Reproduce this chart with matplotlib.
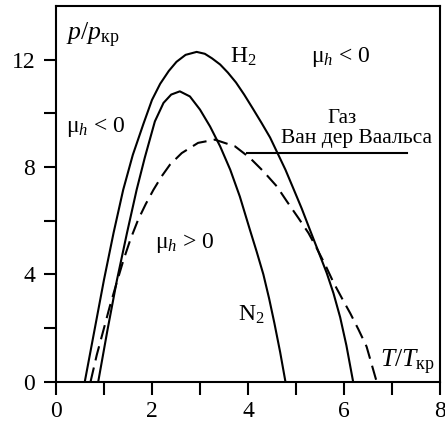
"""
Joule-Thomson inversion curves in reduced coordinates
H2, N2 and the van der Waals gas
"""

import matplotlib.pyplot as plt

plt.rcParams.update({
    'font.family': ['Liberation Serif', 'DejaVu Serif'],
    'mathtext.fontset': 'custom',
    'mathtext.rm': 'Liberation Serif',
    'mathtext.it': 'Liberation Serif:italic',
    'mathtext.bf': 'Liberation Serif:bold',
    'figure.dpi': 100,
})

# Inversion curve of H2 (T/Tкр, p/pкр)
t_h2 = [0.60, 0.80, 1.00, 1.20, 1.40, 1.60, 1.82, 2.00, 2.17, 2.35, 2.51, 2.70,
        2.93, 3.10, 3.25, 3.42, 3.58, 3.75, 3.92, 4.10, 4.28, 4.46, 4.62, 4.78,
        4.94, 5.12, 5.29, 5.46, 5.64, 5.78, 5.92, 6.05, 6.19]
p_h2 = [0.00, 1.90, 3.80, 5.55, 7.15, 8.45, 9.60, 10.50, 11.10, 11.58, 11.92,
        12.18, 12.29, 12.22, 12.05, 11.82, 11.52, 11.15, 10.70, 10.18, 9.65,
        9.10, 8.50, 7.90, 7.22, 6.45, 5.66, 4.88, 4.05, 3.30, 2.40, 1.35, 0.00]

# Inversion curve of N2
t_n2 = [0.88, 1.07, 1.27, 1.48, 1.68, 1.85, 2.06, 2.24, 2.40, 2.58, 2.79, 3.00,
        3.21, 3.42, 3.63, 3.83, 4.04, 4.18, 4.32, 4.44, 4.55, 4.67, 4.78]
p_n2 = [0.00, 1.90, 3.79, 5.55, 7.15, 8.35, 9.70, 10.39, 10.70, 10.82, 10.63,
        10.14, 9.51, 8.77, 7.90, 6.90, 5.66, 4.85, 4.00, 3.10, 2.18, 1.10, 0.00]

# Inversion curve of the van der Waals gas
t_vdw = [0.72, 0.85, 0.99, 1.12, 1.25, 1.40, 1.55, 1.71, 1.87, 2.03, 2.20,
         2.375, 2.62, 2.96, 3.31, 3.73, 4.04, 4.32, 4.60, 4.81, 5.05, 5.26,
         5.43, 5.61, 5.78, 5.96, 6.13, 6.30, 6.47, 6.68]
p_vdw = [0.00, 1.00, 1.93, 2.80, 3.60, 4.50, 5.30, 6.03, 6.62, 7.15, 7.65,
         8.09, 8.52, 8.90, 9.02, 8.77, 8.34, 7.84, 7.28, 6.72, 6.10, 5.54,
         4.98, 4.35, 3.70, 3.10, 2.55, 1.95, 1.31, 0.00]

x_ticks = [0, 2, 4, 6, 8]
y_ticks = [0, 4, 8, 12]

fig = plt.figure(figsize=(4.45, 4.23))
ax = fig.add_axes([0.1258, 0.0976, 0.8630, 0.8882])

ax.plot(t_h2, p_h2, color='black', linewidth=1.5, solid_joinstyle='round')
ax.plot(t_n2, p_n2, color='black', linewidth=1.5, solid_joinstyle='round')
ax.plot(t_vdw, p_vdw, color='black', linewidth=1.5, dashes=(7, 3.5))

# leader line for the van der Waals label
ax.plot([3.97, 7.31], [8.54, 8.54], color='black', linewidth=1.5)

ax.set_xlim(0, 8)
ax.set_ylim(0, 14)
ax.set_xticks(x_ticks)
ax.set_xticks([1, 3, 5, 7], minor=True)
ax.set_yticks(y_ticks)
ax.set_yticks([2, 6, 10], minor=True)
ax.tick_params(which='both', direction='out', length=9, width=1.5,
               labelsize=17, top=False, right=False)
ax.tick_params(axis='x', pad=5)
ax.tick_params(axis='y', pad=6)
for sp in ax.spines.values():
    sp.set_linewidth(1.5)

fs = 17
ax.text(0.77, 12.9, r'$p/p_{\mathrm{кр}}$', fontsize=18.5, ha='center', va='center')
ax.text(7.33, 0.7, r'$T/T_{\mathrm{кр}}$', fontsize=18.5, ha='center', va='center')
ax.text(3.9, 12.1, r'H$_2$', fontsize=fs, ha='center', va='center')
ax.text(4.06, 2.48, r'N$_2$', fontsize=fs, ha='center', va='center')
ax.text(5.94, 12.1, r'μ$_h$ < 0', fontsize=fs, ha='center', va='center')
ax.text(0.83, 9.5, r'μ$_h$ < 0', fontsize=fs, ha='center', va='center')
ax.text(2.69, 5.17, r'μ$_h$ > 0', fontsize=fs, ha='center', va='center')
ax.text(5.96, 9.64, 'Газ', fontsize=15, ha='center', va='baseline')
ax.text(6.25, 8.88, 'Ван дер Ваальса', fontsize=15.5, ha='center', va='baseline')

plt.savefig('out.png', dpi=100)
plt.close()
